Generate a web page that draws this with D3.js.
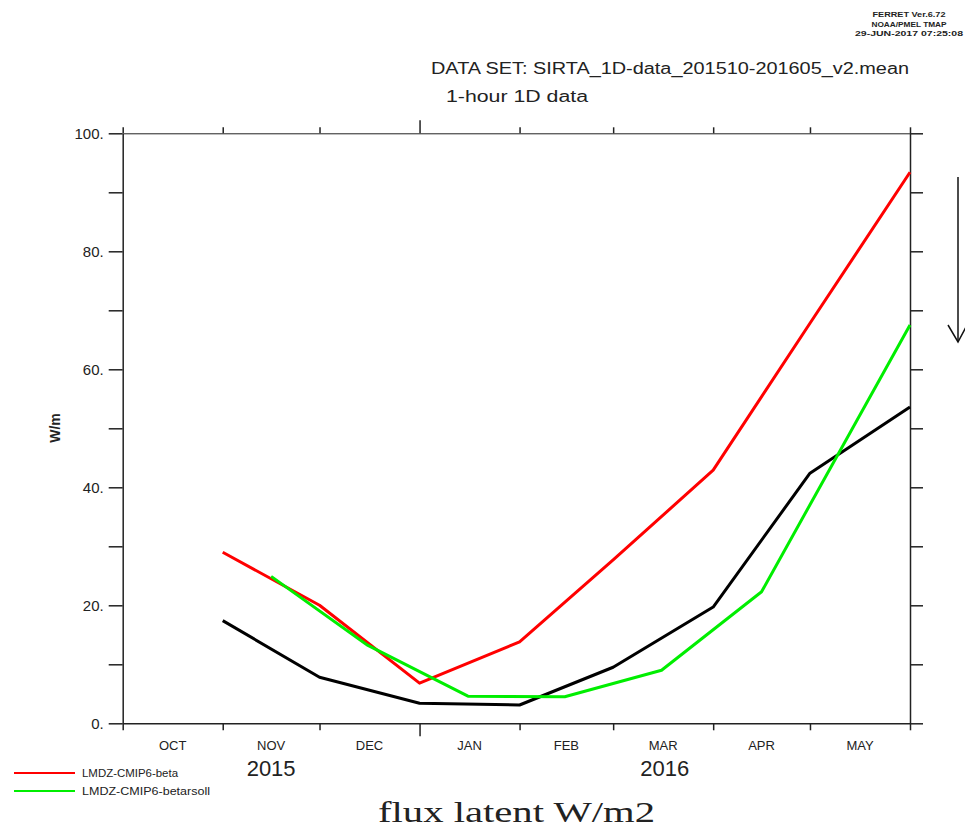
<!DOCTYPE html>
<html>
<head>
<meta charset="utf-8">
<script src="https://cdn.jsdelivr.net/npm/d3@7"></script>
<style>
  body { margin: 0; background: #fff; }
  svg { display: block; }
  text { font-family: "Liberation Sans", "DejaVu Sans", sans-serif; fill: #222; }
</style>
</head>
<body>
<div id="chart"></div>
<script>
// month labels and years on the time axis
let monthLabels = ["OCT", "NOV", "DEC", "JAN", "FEB", "MAR", "APR", "MAY"];
let yearLabels = ["2015", "2016"];
let yTicks = [0, 10, 20, 30, 40, 50, 60, 70, 80, 90, 100];

// black and red are on the first of each month
let monthDates = ["2015-11-01", "2015-12-01", "2016-01-01", "2016-02-01",
                  "2016-03-01", "2016-04-01", "2016-05-01", "2016-06-01"];
let blackValues = [17.4, 7.8, 3.4, 3.1, 9.5, 19.7, 42.4, 53.6];
let redValues = [29.0, 20.0, 6.8, 13.8, 27.7, 42.9, 67.8, 93.4];

// green is on mid-months
let greenDates = ["2015-11-16", "2015-12-16", "2016-01-16", "2016-02-15",
                  "2016-03-16", "2016-04-16", "2016-06-01"];
let greenValues = [24.9, 13.2, 4.6, 4.5, 9.0, 22.3, 67.5];

let legendNames = ["LMDZ-CMIP6-beta", "LMDZ-CMIP6-betarsoll"];
let legendColors = ["#ff0000", "#00ee00"];

let width = 965;
let height = 830;
let axisColor = "#222";

let parse = d3.utcParse("%Y-%m-%d");

let x = d3.scaleUtc()
    .domain([Date.UTC(2015, 9, 1), Date.UTC(2016, 5, 1)])
    .range([122.7, 910]);

let y = d3.scaleLinear()
    .domain([0, 100])
    .range([723.3, 133.3]);

let svg = d3.select("#chart")
    .append("svg")
    .attr("width", width)
    .attr("height", height);

let monthStarts = d3.utcMonth.range(x.domain()[0], new Date(x.domain()[1].getTime() + 1));
let isJan = d => d.getUTCMonth() === 0;

function styleAxis(g) {
    g.selectAll("path, line").attr("stroke", axisColor).attr("stroke-width", 1.5);
    g.selectAll("text").attr("fill", axisColor);
}

// bottom axis
let bottomAxis = svg.append("g")
    .attr("transform", "translate(0," + y(0) + ")")
    .call(d3.axisBottom(x).tickValues(monthStarts).tickSize(7).tickSizeOuter(0).tickFormat(""));
bottomAxis.selectAll(".tick line").attr("y2", d => isJan(d) ? 13 : 7);
styleAxis(bottomAxis);

// top axis
let topAxis = svg.append("g")
    .attr("transform", "translate(0," + y(100) + ")")
    .call(d3.axisTop(x).tickValues(monthStarts).tickSize(6).tickSizeOuter(0).tickFormat(""));
topAxis.selectAll(".tick line").attr("y2", d => isJan(d) ? -13 : -6);
styleAxis(topAxis);
topAxis.select(".domain").attr("stroke-width", 1);

// left axis
let leftAxis = svg.append("g")
    .attr("transform", "translate(" + x.range()[0] + ",0)")
    .call(d3.axisLeft(y).tickValues(yTicks).tickSize(14).tickSizeOuter(0).tickPadding(5)
        .tickFormat(d => d % 20 === 0 ? d + "." : ""));
leftAxis.selectAll("text").style("font-size", "15px");
styleAxis(leftAxis);

// right axis
let rightAxis = svg.append("g")
    .attr("transform", "translate(" + x.range()[1] + ",0)")
    .call(d3.axisRight(y).tickValues(yTicks).tickSize(13).tickSizeOuter(0).tickFormat(""));
styleAxis(rightAxis);

// month labels at mid-month
svg.selectAll(".month")
    .data(monthLabels)
    .enter().append("text")
    .attr("class", "month")
    .attr("x", (d, i) => (x(monthStarts[i]) + x(monthStarts[i + 1])) / 2)
    .attr("y", 750)
    .attr("text-anchor", "middle")
    .style("font-size", "13px")
    .text(d => d);

// year labels centred under their part of the axis
let yearSpans = [[monthStarts[0], monthStarts[3]], [monthStarts[3], monthStarts[8]]];
svg.selectAll(".year")
    .data(yearLabels)
    .enter().append("text")
    .attr("class", "year")
    .attr("x", (d, i) => (x(yearSpans[i][0]) + x(yearSpans[i][1])) / 2)
    .attr("y", 776)
    .attr("text-anchor", "middle")
    .style("font-size", "22px")
    .text(d => d);

// lines
let line = d3.line()
    .x(d => x(d.date))
    .y(d => y(d.value));

let series = [
    {color: "#000000", dates: monthDates, values: blackValues},
    {color: "#ff0000", dates: monthDates, values: redValues},
    {color: "#00ee00", dates: greenDates, values: greenValues}
];

svg.selectAll(".series")
    .data(series)
    .enter().append("path")
    .attr("class", "series")
    .attr("fill", "none")
    .attr("stroke", d => d.color)
    .attr("stroke-width", 3)
    .attr("stroke-linejoin", "round")
    .attr("d", d => line(d.values.map((v, i) => ({date: parse(d.dates[i]), value: v}))));

// y label
svg.append("text")
    .attr("transform", "translate(60,428) rotate(-90)")
    .attr("text-anchor", "middle")
    .style("font-size", "14px")
    .style("font-weight", "bold")
    .text("W/m");

// header texts
let stamp = ["FERRET  Ver.6.72", "NOAA/PMEL TMAP", "29-JUN-2017 07:25:08"];
let stampWidths = [73, 75, 108];
svg.selectAll(".stamp")
    .data(stamp)
    .enter().append("text")
    .attr("class", "stamp")
    .attr("x", 909)
    .attr("y", (d, i) => 17 + i * 9.5)
    .attr("text-anchor", "middle")
    .attr("textLength", (d, i) => stampWidths[i])
    .attr("lengthAdjust", "spacingAndGlyphs")
    .style("font-size", "8px")
    .style("font-weight", "bold")
    .text(d => d);

svg.append("text")
    .attr("x", 431)
    .attr("y", 74)
    .attr("textLength", 478)
    .attr("lengthAdjust", "spacingAndGlyphs")
    .style("font-size", "16px")
    .text("DATA SET: SIRTA_1D-data_201510-201605_v2.mean");

svg.append("text")
    .attr("x", 446)
    .attr("y", 102)
    .attr("textLength", 142)
    .attr("lengthAdjust", "spacingAndGlyphs")
    .style("font-size", "16px")
    .text("1-hour 1D data");

// legend
let legendG = svg.selectAll(".legend")
    .data(legendNames)
    .enter().append("g")
    .attr("class", "legend")
    .attr("transform", (d, i) => "translate(0," + (773 + i * 18) + ")");

legendG.append("line")
    .attr("x1", 14)
    .attr("x2", 75)
    .attr("stroke", (d, i) => legendColors[i])
    .attr("stroke-width", 2);

legendG.append("text")
    .attr("x", 82)
    .attr("y", 4)
    .attr("textLength", d => d.length * 6.4)
    .attr("lengthAdjust", "spacingAndGlyphs")
    .style("font-size", "11px")
    .text(d => d);

// title
svg.append("text")
    .attr("x", 378)
    .attr("y", 822)
    .attr("textLength", 277)
    .attr("lengthAdjust", "spacingAndGlyphs")
    .style("font-family", "'Liberation Serif', 'DejaVu Serif', serif")
    .style("font-size", "30px")
    .text("flux latent W/m2");

// arrow on the right
let arrow = svg.append("g")
    .attr("stroke", "#111")
    .attr("stroke-width", 1.5)
    .attr("fill", "none");
arrow.append("line").attr("x1", 958).attr("x2", 958).attr("y1", 177).attr("y2", 342);
arrow.append("path").attr("d", "M948,325 L958,342 L967,325");
</script>
</body>
</html>
